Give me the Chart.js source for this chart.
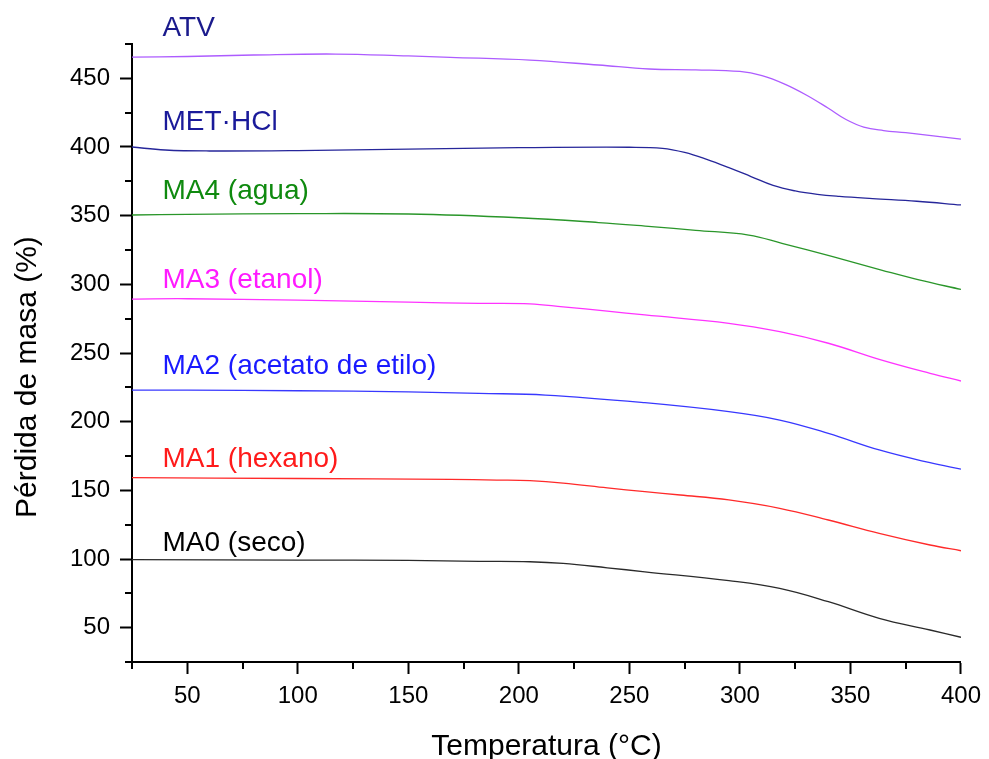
<!DOCTYPE html>
<html>
<head>
<meta charset="utf-8">
<script src="https://cdn.jsdelivr.net/npm/chart.js@4.4.1/dist/chart.umd.min.js"></script>
<style>
  html, body { margin: 0; padding: 0; background: #ffffff; }
  #wrap { width: 989px; height: 759px; }
</style>
</head>
<body>
<div id="wrap"><canvas id="c" width="989" height="759"></canvas></div>
<script>
// Axis ticks
const xTicks = [50, 100, 150, 200, 250, 300, 350, 400];
const xMinor = [25, 75, 125, 175, 225, 275, 325, 375];
const yTicks = [50, 100, 150, 200, 250, 300, 350, 400, 450];
const yMinor = [25, 75, 125, 175, 225, 275, 325, 375, 425, 475];

// Thermogravimetric curves: temperature (°C) and mass (%) per sample
const atvT = [25, 50, 80, 117, 150, 169, 205, 236, 259, 280, 300, 310, 320, 330, 340, 348, 356, 365, 375, 400];
const atvM = [465.5, 465.9, 467.0, 467.7, 466.3, 465.3, 463.3, 459.7, 456.8, 456.2, 455.0, 452.0, 446.0, 437.9, 428.2, 420.0, 414.5, 412.0, 410.4, 405.8];

const metT = [25, 40, 60, 100, 150, 200, 250, 265, 275, 285, 295, 305, 315, 325, 335, 345, 360, 380, 400];
const metM = [400.0, 397.8, 397.1, 397.4, 398.5, 399.5, 399.8, 399.0, 396.0, 391.0, 385.0, 378.5, 372.0, 368.0, 365.5, 364.0, 362.4, 360.5, 357.8];

const ma4T = [25, 50, 100, 150, 200, 236, 260, 280, 304, 319, 342, 364, 381, 400];
const ma4M = [350.5, 351.0, 351.5, 351.2, 348.5, 345.0, 342.0, 339.3, 335.9, 329.9, 320.1, 310.4, 303.2, 296.3];

const ma3T = [25, 50, 100, 150, 182, 205, 220, 240, 257, 295, 318, 340, 363, 386, 400];
const ma3M = [289.3, 289.5, 288.5, 287.0, 286.2, 285.8, 283.6, 280.5, 277.7, 271.6, 265.5, 257.1, 245.4, 235.2, 229.6];

const ma2T = [25, 50, 100, 150, 182, 212, 257, 295, 318, 340, 363, 386, 400];
const ma2M = [223.0, 223.0, 222.5, 221.7, 220.6, 219.4, 213.8, 207.3, 201.2, 191.5, 179.4, 170.1, 165.5];

const ma1T = [25, 100, 169, 190, 205, 220, 240, 257, 273, 295, 318, 340, 363, 386, 400];
const ma1M = [159.2, 158.6, 158.0, 157.5, 157.0, 155.3, 151.8, 149.0, 146.6, 143.0, 136.9, 128.4, 118.7, 110.2, 106.0];

const ma0T = [25, 100, 150, 182, 205, 220, 240, 257, 295, 318, 340, 363, 386, 400];
const ma0M = [99.5, 99.2, 99.0, 98.3, 98.0, 96.8, 93.6, 90.7, 84.2, 78.6, 68.9, 56.8, 48.3, 43.0];

// Sample names, written next to each curve (anchor in data units)
const seriesNames = ['ATV', 'MET·HCl', 'MA4 (agua)', 'MA3 (etanol)', 'MA2 (acetato de etilo)', 'MA1 (hexano)', 'MA0 (seco)'];
const nameX = [38.8, 38.8, 38.8, 38.8, 38.8, 38.8, 38.8];
const nameY = [480.8, 412.4, 362.1, 297.3, 234.7, 167.0, 105.8];

const xTitle = 'Temperatura (°C)';
const yTitle = 'Pérdida de masa (%)';
const yTitleAt = 232.5;

const lineColors = ['#ad5cff', '#26269a', '#2a962a', '#ff33ff', '#3838ff', '#ff2a2a', '#2a2a2a'];
const nameColors = ['#1a1a8c', '#1a1a9a', '#0f8a0f', '#ff1aff', '#1a1aff', '#ff1a1a', '#000000'];

const FONT = '"Liberation Sans", Arial, Helvetica, sans-serif';

function pts(xs, ys) { return xs.map((x, i) => ({ x: x, y: ys[i] })); }

const curves = [
  pts(atvT, atvM), pts(metT, metM), pts(ma4T, ma4M), pts(ma3T, ma3M),
  pts(ma2T, ma2M), pts(ma1T, ma1M), pts(ma0T, ma0M)
];

const datasets = curves.map((d, i) => ({
  label: seriesNames[i],
  data: d,
  borderColor: lineColors[i],
  borderWidth: 1.3,
  pointRadius: 0,
  fill: false,
  tension: 0.4
}));

// Minor tick marks on both axes, series names and the rotated y title
const decorations = {
  id: 'decorations',
  afterDraw(chart) {
    const ctx = chart.ctx;
    const xs = chart.scales.x, ys = chart.scales.y;
    const area = chart.chartArea;
    ctx.save();
    ctx.strokeStyle = '#000';
    ctx.lineWidth = 2;
    ctx.beginPath();
    xMinor.forEach(v => {
      const p = Math.round(xs.getPixelForValue(v));
      ctx.moveTo(p, area.bottom);
      ctx.lineTo(p, area.bottom + 7);
    });
    yMinor.forEach(v => {
      const p = Math.round(ys.getPixelForValue(v));
      ctx.moveTo(area.left, p);
      ctx.lineTo(area.left - 7, p);
    });
    ctx.stroke();

    ctx.font = '28px ' + FONT;
    ctx.textAlign = 'left';
    ctx.textBaseline = 'alphabetic';
    seriesNames.forEach((name, i) => {
      ctx.fillStyle = nameColors[i];
      ctx.fillText(name, xs.getPixelForValue(nameX[i]), ys.getPixelForValue(nameY[i]));
    });

    ctx.translate(28, ys.getPixelForValue(yTitleAt));
    ctx.rotate(-Math.PI / 2);
    ctx.font = '30px ' + FONT;
    ctx.fillStyle = '#000';
    ctx.textAlign = 'center';
    ctx.textBaseline = 'middle';
    ctx.fillText(yTitle, 0, 0);
    ctx.restore();
  }
};

new Chart(document.getElementById('c'), {
  type: 'line',
  data: { datasets: datasets },
  plugins: [decorations],
  options: {
    responsive: false,
    animation: false,
    devicePixelRatio: 1,
    layout: { padding: { left: 0, top: 44, right: 27, bottom: 0 } },
    plugins: { legend: { display: false }, tooltip: { enabled: false } },
    scales: {
      x: {
        type: 'linear',
        min: 25, max: 400,
        afterBuildTicks: axis => { axis.ticks = xTicks.map(v => ({ value: v })); },
        afterFit: scale => { scale.height = 97; },
        border: { display: true, color: '#000', width: 2 },
        grid: { display: true, drawOnChartArea: false, drawTicks: true, tickLength: 12, tickWidth: 2, tickColor: '#000' },
        ticks: { color: '#000', font: { family: FONT, size: 24 }, padding: 8, maxRotation: 0 },
        title: { display: true, text: xTitle, color: '#000', font: { family: FONT, size: 30, lineHeight: 1 }, padding: { top: 0, bottom: -3 } }
      },
      y: {
        type: 'linear',
        min: 25, max: 475,
        afterBuildTicks: axis => { axis.ticks = yTicks.map(v => ({ value: v })); },
        afterFit: scale => { scale.width = 132; },
        border: { display: true, color: '#000', width: 2 },
        grid: { display: true, drawOnChartArea: false, drawTicks: true, tickLength: 12, tickWidth: 2, tickColor: '#000' },
        ticks: { color: '#000', font: { family: FONT, size: 24 }, padding: 10 }
      }
    }
  }
});
</script>
</body>
</html>
